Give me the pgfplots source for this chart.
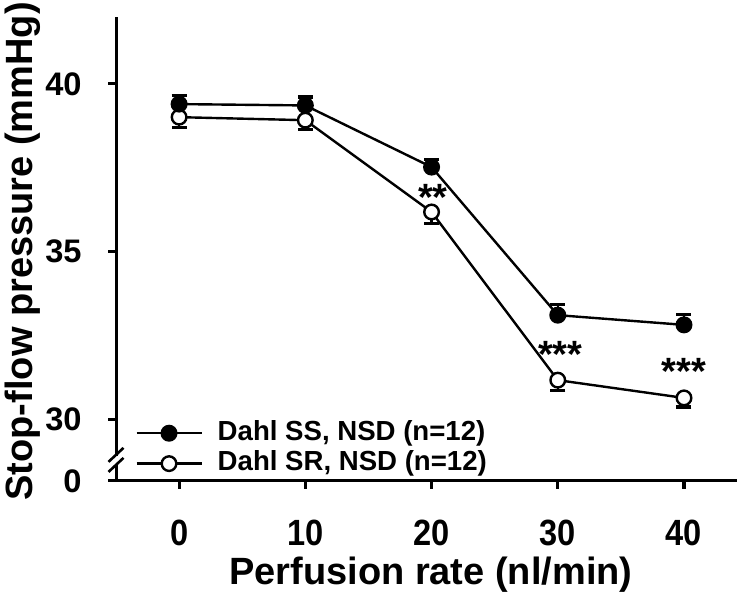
\documentclass[border=0pt]{standalone}
\usepackage{fontspec}
\setmainfont{Liberation Sans}
\usepackage{pgfplots}
\pgfplotsset{compat=1.18}
\begin{document}
\begin{tikzpicture}[font=\bfseries]
\useasboundingbox (0,0) rectangle (375pt,296.5pt);
\begin{axis}[
  at={(58pt,56pt)}, anchor=south west,
  scale only axis, width=310.5pt, height=232pt,
  xmin=-5, xmax=44.2, ymin=28.15, ymax=42,
  axis x line*=bottom, axis y line*=left,
  axis line style={line width=1.5pt, -},
  xtick={0,10,20,30,40},
  ytick={28.15,30,35,40}, yticklabels={0,30,35,40},
  tick style={line width=1.5pt, black},
  tick align=outside, major tick length=4pt,
  /pgf/number format/assume math mode=true,
  yticklabel style={font=\fontsize{16.3}{18}\bfseries, inner sep=0pt, anchor=east, xshift=-13pt},
  xticklabel style={font=\fontsize{16.3}{18}\bfseries, inner sep=0pt, anchor=north, yshift=-15.5pt, yscale=1.12},
  xlabel={Perfusion rate (nl/min)},
  ylabel={Stop-flow pressure (mmHg)},
  every axis x label/.style={at={(axis description cs:0.507,-0.162)}, anchor=north, inner sep=0pt, font=\fontsize{19}{22}\bfseries},
  every axis y label/.style={at={(axis description cs:-0.135,0.495)}, anchor=base, rotate=90, inner sep=0pt, font=\fontsize{19}{22}\bfseries},
  clip=false,
  reverse legend,
  legend style={draw=none, fill=none, at={(axis cs:-3.5,29.97)}, anchor=north west, inner sep=0pt,
    row sep=3.7pt, column sep=7.5pt, nodes={inner sep=0pt, anchor=base west},
    font=\fontsize{13.8}{16}\bfseries, legend cell align=left},
  legend image code/.code={\draw[mark repeat=2,mark phase=2,#1] plot coordinates {(0pt,3.6pt) (16.25pt,3.6pt) (32.5pt,3.6pt)};},
]
% Dahl SR (open)
\addplot[black, line width=1.2pt, mark=*, mark size=3.65pt, mark options={fill=white, line width=1.2pt},
  error bars/.cd, y dir=minus, y explicit,
  error bar style={line width=1.2pt, black},
  error mark options={rotate=90, mark size=3.75pt, line width=1.6pt, black}]
  coordinates {
  (0,39.01) -= (0,0.30)
  (10,38.92) -= (0,0.28)
  (20,36.18) -= (0,0.35)
  (30,31.16) -= (0,0.30)
  (40,30.63) -= (0,0.27)
};
\addlegendentry{Dahl SR, NSD (n=12)}
% Dahl SS (filled)
\addplot[black, line width=1.2pt, mark=*, mark size=3.65pt, mark options={fill=black, line width=1.2pt},
  error bars/.cd, y dir=plus, y explicit,
  error bar style={line width=1.2pt, black},
  error mark options={rotate=90, mark size=3.75pt, line width=1.6pt, black}]
  coordinates {
  (0,39.40) += (0,0.26)
  (10,39.36) += (0,0.25)
  (20,37.52) += (0,0.22)
  (30,33.10) += (0,0.33)
  (40,32.81) += (0,0.32)
};
\addlegendentry{Dahl SS, NSD (n=12)}
\node[font=\fontsize{19}{22}\bfseries, inner sep=0pt] at (axis cs:20.1,36.62) {**};
\node[font=\fontsize{19}{22}\bfseries, inner sep=0pt] at (axis cs:30.2,31.93) {***};
\node[font=\fontsize{19}{22}\bfseries, inner sep=0pt] at (axis cs:40,31.42) {***};
% axis break
\draw[white, line width=4pt] (axis cs:-5,28.66) -- (axis cs:-5,28.90);
\draw[black, line width=1.3pt] ([shift={(-3.75pt,-3.5pt)}]axis cs:-5,28.93) -- ([shift={(3.75pt,3.5pt)}]axis cs:-5,28.93);
\draw[black, line width=1.3pt] ([shift={(-3.75pt,-3.5pt)}]axis cs:-5,28.63) -- ([shift={(3.75pt,3.5pt)}]axis cs:-5,28.63);
\end{axis}
\end{tikzpicture}
\end{document}
